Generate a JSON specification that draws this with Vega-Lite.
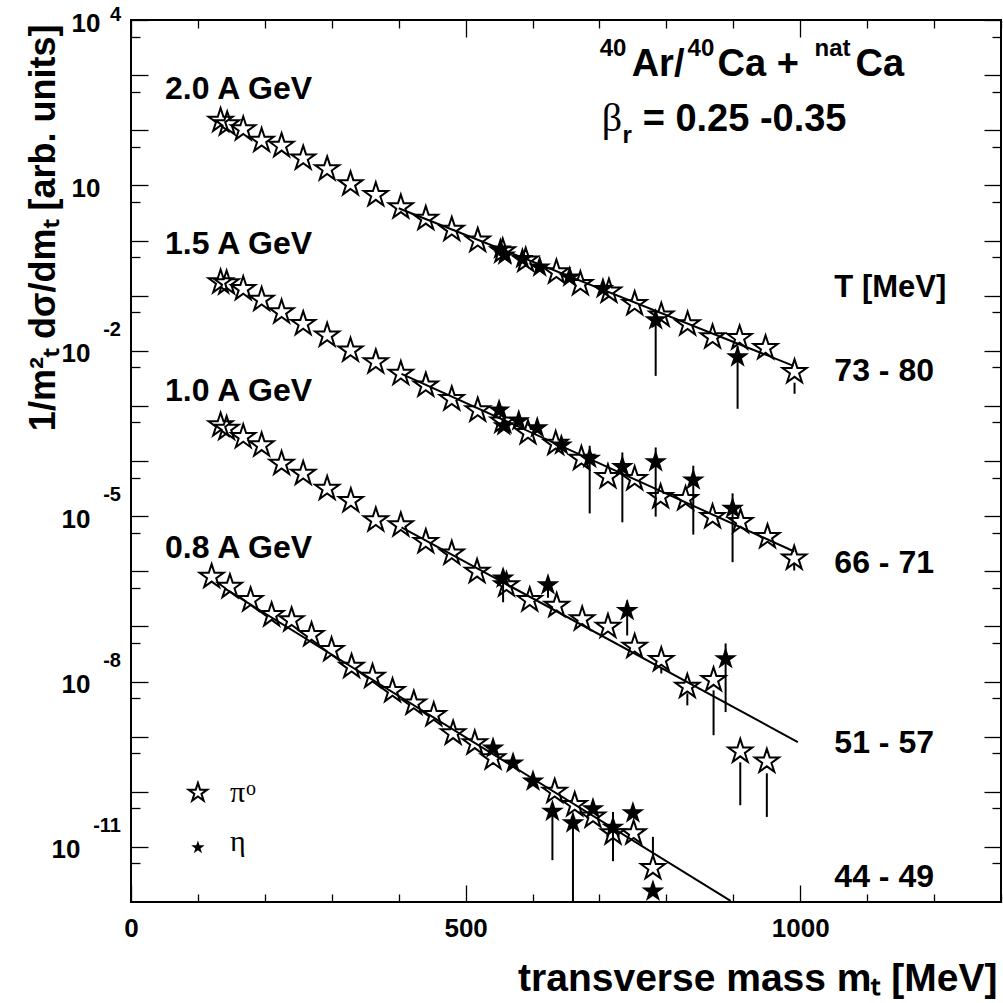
{
"$schema": "https://vega.github.io/schema/vega-lite/v6.json",
"width": 870, "height": 882,
"autosize": "none",
"padding": {"left": 131, "top": 20, "right": 2, "bottom": 101},
"background": "white",
"config": {
  "view": {"stroke": "black", "strokeWidth": 2},
  "axis": {"domain": false, "grid": false, "tickColor": "black", "tickWidth": 1.3, "labelColor": "black", "labelFont": "Liberation Sans", "labelFontWeight": "bold", "labelFontSize": 26, "labelOverlap": false, "labelBound": false, "labelFlush": false, "titleColor": "black", "titleFont": "Liberation Sans", "titleFontWeight": "bold", "titleFontSize": 36},
  "text": {"font": "Liberation Sans", "fill": "black"}
},
"datasets": {
  "fits": [
    {"e": "2.0", "x": 400, "y": 3.85}, {"e": "2.0", "x": 990, "y": 0.00532},
    {"e": "1.5", "x": 404.2, "y": 0.00382}, {"e": "1.5", "x": 991, "y": 2.28e-6},
    {"e": "1.0", "x": 404.2, "y": 6.27e-6}, {"e": "1.0", "x": 996.4, "y": 7.98e-10},
    {"e": "0.8", "x": 140.4, "y": 4.82e-7}, {"e": "0.8", "x": 896, "y": 1.05e-12}
  ],
  "pi": [
    {"e":"2.0","x":133.9,"y":157},{"e":"2.0","x":143.8,"y":136},{"e":"2.0","x":167.7,"y":110},{"e":"2.0","x":195.2,"y":68},{"e":"2.0","x":225,"y":55},{"e":"2.0","x":257.3,"y":32.6},{"e":"2.0","x":293.1,"y":20.8},{"e":"2.0","x":328,"y":11.1},{"e":"2.0","x":365.8,"y":7.04},{"e":"2.0","x":403.2,"y":4.22},{"e":"2.0","x":440.5,"y":2.61},{"e":"2.0","x":479.3,"y":1.66},{"e":"2.0","x":518.1,"y":1.05},{"e":"2.0","x":555.5,"y":0.673},{"e":"2.0","x":589.8,"y":0.456},{"e":"2.0","x":635.7,"y":0.28},{"e":"2.0","x":671.5,"y":0.172},{"e":"2.0","x":714.2,"y":0.125},{"e":"2.0","x":752.6,"y":0.0747},{"e":"2.0","x":792.4,"y":0.046},{"e":"2.0","x":831.7,"y":0.032},{"e":"2.0","x":869,"y":0.0186},{"e":"2.0","x":909.4,"y":0.0179},{"e":"2.0","x":948.2,"y":0.0118},{"e":"2.0","x":991.5,"y":0.00433},
    {"e":"1.5","x":133.9,"y":0.1845},{"e":"1.5","x":142.9,"y":0.177},{"e":"1.5","x":167.7,"y":0.1396},{"e":"1.5","x":195.2,"y":0.0889},{"e":"1.5","x":225,"y":0.0528},{"e":"1.5","x":257.3,"y":0.0324},{"e":"1.5","x":293.1,"y":0.02},{"e":"1.5","x":328,"y":0.01069},{"e":"1.5","x":365.8,"y":0.00656},{"e":"1.5","x":403.2,"y":0.00403},{"e":"1.5","x":440.5,"y":0.00248},{"e":"1.5","x":479.3,"y":0.0014},{"e":"1.5","x":518.1,"y":0.000875},{"e":"1.5","x":555.5,"y":0.00055},{"e":"1.5","x":593.2,"y":0.00034},{"e":"1.5","x":634.6,"y":0.000217},{"e":"1.5","x":673,"y":0.000116},{"e":"1.5","x":712.7,"y":5.42e-5},{"e":"1.5","x":752.6,"y":4.98e-5},{"e":"1.5","x":791.4,"y":2.35e-5},{"e":"1.5","x":828.7,"y":2.16e-5},{"e":"1.5","x":869,"y":1.02e-5},{"e":"1.5","x":910.9,"y":8.3e-6},{"e":"1.5","x":951.1,"y":4.43e-6},{"e":"1.5","x":991,"y":1.8e-6},
    {"e":"1.0","x":133.9,"y":4.68e-4},{"e":"1.0","x":142.9,"y":4.06e-4},{"e":"1.0","x":167.7,"y":2.87e-4},{"e":"1.0","x":195.2,"y":2.03e-4},{"e":"1.0","x":225,"y":9.43e-5},{"e":"1.0","x":257.3,"y":6.21e-5},{"e":"1.0","x":293.1,"y":3.32e-5},{"e":"1.0","x":328.5,"y":1.99e-5},{"e":"1.0","x":365.8,"y":8.9e-6},{"e":"1.0","x":403.2,"y":7.22e-6},{"e":"1.0","x":440.5,"y":3.6e-6},{"e":"1.0","x":479.3,"y":2.21e-6},{"e":"1.0","x":517.1,"y":1.03e-6},{"e":"1.0","x":561,"y":5.91e-7},{"e":"1.0","x":595.8,"y":3.16e-7},{"e":"1.0","x":636.1,"y":2.49e-7},{"e":"1.0","x":674.2,"y":1.42e-7},{"e":"1.0","x":712.7,"y":1.04e-7},{"e":"1.0","x":752.6,"y":4.5e-8},{"e":"1.0","x":792.4,"y":2.59e-8},{"e":"1.0","x":831.3,"y":8.5e-9},{"e":"1.0","x":870.5,"y":1.12e-8},{"e":"1.0","x":910.4,"y":5.65e-10},{"e":"1.0","x":950.1,"y":3.72e-10},
    {"e":"0.8","x":120.5,"y":8.36e-7},{"e":"0.8","x":147.8,"y":5.5e-7},{"e":"0.8","x":178.7,"y":3.16e-7},{"e":"0.8","x":210.1,"y":1.69e-7},{"e":"0.8","x":240,"y":1.37e-7},{"e":"0.8","x":269.8,"y":7.35e-8},{"e":"0.8","x":299.7,"y":3.93e-8},{"e":"0.8","x":329.6,"y":1.96e-8},{"e":"0.8","x":360.9,"y":1.29e-8},{"e":"0.8","x":390.8,"y":7.1e-9},{"e":"0.8","x":422.6,"y":4.23e-9},{"e":"0.8","x":452.4,"y":2.61e-9},{"e":"0.8","x":481.3,"y":1.21e-9},{"e":"0.8","x":513.7,"y":7.98e-10},{"e":"0.8","x":541,"y":4.27e-10},{"e":"0.8","x":633.1,"y":1.06e-10},{"e":"0.8","x":663,"y":6.1e-11},{"e":"0.8","x":690.3,"y":3.75e-11},{"e":"0.8","x":720.2,"y":1.87e-11},{"e":"0.8","x":751.1,"y":1.87e-11},{"e":"0.8","x":779.9,"y":4.35e-12}
  ],
  "eta": [
    {"e":"2.0","x":552,"y":0.731},{"e":"2.0","x":558.5,"y":0.569},{"e":"2.0","x":584.9,"y":0.488},{"e":"2.0","x":610.7,"y":0.345},{"e":"2.0","x":655.5,"y":0.227},{"e":"2.0","x":705.2,"y":0.14},{"e":"2.0","x":784,"y":0.0379},{"e":"2.0","x":906.4,"y":0.00805},
    {"e":"1.5","x":550,"y":0.000875},{"e":"1.5","x":557,"y":0.000455},{"e":"1.5","x":579.4,"y":0.00056},{"e":"1.5","x":607,"y":0.000418},{"e":"1.5","x":643.1,"y":0.000203},{"e":"1.5","x":685.4,"y":0.000116},{"e":"1.5","x":734.2,"y":8.22e-5},{"e":"1.5","x":784,"y":1.01e-4},{"e":"1.5","x":840.2,"y":4.72e-5},{"e":"1.5","x":898.9,"y":1.44e-5},
    {"e":"1.0","x":556,"y":7.8e-7},{"e":"1.0","x":623.1,"y":5.92e-7},{"e":"1.0","x":741.4,"y":2.02e-7},{"e":"1.0","x":888.5,"y":2.7e-8},
    {"e":"0.8","x":541,"y":6.47e-10},{"e":"0.8","x":570.9,"y":3.46e-10},{"e":"0.8","x":600.7,"y":1.62e-10},{"e":"0.8","x":629.7,"y":4.62e-11},{"e":"0.8","x":660.4,"y":2.84e-11},{"e":"0.8","x":690.3,"y":5.13e-11},{"e":"0.8","x":720.2,"y":2.37e-11},{"e":"0.8","x":750,"y":4.31e-11},{"e":"0.8","x":779.9,"y":1.64e-12}
  ],
  "bars": [
    {"x":784,"y1":0.05,"y2":0.0035},{"x":906.4,"y1":0.0123,"y2":0.000885},{"x":991.5,"y1":0.00263,"y2":0.00166},
    {"x":685.4,"y1":1.89e-4,"y2":1.12e-5},{"x":734.2,"y1":1.43e-4,"y2":7.73e-6},{"x":784,"y1":1.76e-4,"y2":9.8e-6},{"x":840.2,"y1":8.22e-5,"y2":4.62e-6},{"x":898.9,"y1":2.59e-5,"y2":1.46e-6},{"x":991,"y1":1.38e-6,"y2":1.03e-6},
    {"x":556,"y1":1.03e-6,"y2":2.74e-7},{"x":623.1,"y1":5.92e-7,"y2":3.3e-7},{"x":741.4,"y1":2.95e-7,"y2":6.84e-8},{"x":888.5,"y1":4.9e-8,"y2":2.79e-9},{"x":792.4,"y1":1.73e-8,"y2":1.4e-8},{"x":831.3,"y1":6.08e-9,"y2":3.69e-9},{"x":870.5,"y1":6.9e-9,"y2":1.06e-9},{"x":910.4,"y1":3.42e-10,"y2":5.69e-11},{"x":950.1,"y1":2.16e-10,"y2":3.49e-11},
    {"x":629.7,"y1":4.62e-11,"y2":5.74e-12},{"x":660.4,"y1":2.84e-11,"y2":1e-12},{"x":720.2,"y1":4.3e-11,"y2":5.5e-12},{"x":779.9,"y1":1.52e-11,"y2":7.1e-12}
  ],
  "legpi": [{"x": 100, "y": 1e-10}],
  "legeta": [{"x": 100, "y": 1e-11}],
  "yexp": [{"v": 10000, "e": "4"}, {"v": 0.01, "e": "-2"}, {"v": 1e-5, "e": "-5"}, {"v": 1e-8, "e": "-8"}, {"v": 1e-11, "e": "-11"}],
  "ann": [
    {"g":"energy","t":"2.0 A GeV","x":50.8,"y":366},
    {"g":"energy","t":"1.5 A GeV","x":50.8,"y":0.569},
    {"g":"energy","t":"1.0 A GeV","x":50.8,"y":0.001236},
    {"g":"energy","t":"0.8 A GeV","x":50.8,"y":1.77e-6},
    {"g":"energy","t":"73 - 80","x":1051,"y":0.00285},
    {"g":"energy","t":"66 - 71","x":1051,"y":9.48e-7},
    {"g":"energy","t":"51 - 57","x":1051,"y":4.98e-10},
    {"g":"energy","t":"44 - 49","x":1051,"y":1.86e-12},
    {"g":"tmev","t":"T [MeV]","x":1051,"y":0.0946},
    {"g":"main","t":"Ar/","x":748.1,"y":955},
    {"g":"main","t":"Ca +","x":876.5,"y":955},
    {"g":"main","t":"Ca","x":1082.6,"y":955},
    {"g":"sup","t":"40","x":700.3,"y":2198},
    {"g":"sup","t":"40","x":831.7,"y":2198},
    {"g":"sup","t":"nat","x":1021.4,"y":2198},
    {"g":"sup","t":"r","x":734.6,"y":58.3},
    {"g":"main","t":"= 0.25 -0.35","x":764.5,"y":96.4},
    {"g":"greekbig","t":"β","x":703.3,"y":96.4},
    {"g":"greek","t":"π","x":147.8,"y":6.46e-11},
    {"g":"greek","t":"η","x":147.8,"y":8.3e-12},
    {"g":"greeksup","t":"o","x":171.7,"y":8.65e-11}
  ]
},
"layer": [
  {
    "data": {"name": "fits"},
    "mark": {"type": "line", "color": "black", "strokeWidth": 2},
    "encoding": {
      "x": {"field": "x", "type": "quantitative", "scale": {"domain": [0, 1300], "nice": false, "zero": false},
        "axis": {"orient": "bottom", "values": [0,100,200,300,400,500,600,700,800,900,1000,1100,1200,1300],
          "labelExpr": "datum.value % 500 === 0 ? '' + datum.value : ''",
          "tickSize": {"condition": {"test": "datum.value % 500 === 0", "value": -17}, "value": -8},
          "labelPadding": 30,
          "title": "transverse mass mₜ [MeV]", "titleFontSize": 39, "titleX": 866, "titleY": 88, "titleAlign": "right", "titleBaseline": "alphabetic", "titleAnchor": null}},
      "y": {"field": "y", "type": "quantitative", "scale": {"type": "log", "domain": [1e-12, 10000], "nice": false},
        "axis": {"orient": "left", "values": [10000,5000,1000,500,100,50,10,5,1,0.5,0.1,0.05,0.01,0.005,0.001,0.0005,0.0001,5e-5,1e-5,5e-6,1e-6,5e-7,1e-7,5e-8,1e-8,5e-9,1e-9,5e-10,1e-10,5e-11,1e-11,5e-12],
          "labelExpr": "abs(log(datum.value)/LN10 - round(log(datum.value)/LN10)) < 0.01 && ((round(log(datum.value)/LN10) % 3) + 3) % 3 === 1 ? '10' : ''",
          "tickSize": {"condition": {"test": "abs(log(datum.value)/LN10 - round(log(datum.value)/LN10)) < 0.01", "value": -17}, "value": -9},
          "labelPadding": {"condition": [{"test": "datum.value > 1", "value": 48}, {"test": "datum.value < 5e-11", "value": 68}], "value": 58},
          "labelOffset": 3,
          "title": "1/m²ₜ dσ/dmₜ [arb. units]", "titleX": -77, "titleY": 4, "titleAngle": 270, "titleAlign": "right", "titleBaseline": "alphabetic", "titleAnchor": null}},
      "detail": {"field": "e"}
    }
  },
  {
    "data": {"name": "pi"},
    "mark": {"type": "point", "shape": "M0,-0.905L0.225,-0.214L0.951,-0.214L0.363,0.214L0.588,0.905L0,0.478L-0.588,0.905L-0.363,0.214L-0.951,-0.214L-0.225,-0.214Z", "size": 640, "filled": false, "stroke": "black", "strokeWidth": 2, "opacity": 1},
    "encoding": {
      "x": {"field": "x", "type": "quantitative", "scale": {"domain": [0, 1300], "nice": false, "zero": false},
        "axis": {"orient": "top", "values": [0,100,200,300,400,500,600,700,800,900,1000,1100,1200,1300], "labels": false, "title": null,
          "tickSize": {"condition": {"test": "datum.value % 500 === 0", "value": -17}, "value": -8}}},
      "y": {"field": "y", "type": "quantitative", "scale": {"type": "log", "domain": [1e-12, 10000], "nice": false},
        "axis": {"orient": "right", "values": [10000,5000,1000,500,100,50,10,5,1,0.5,0.1,0.05,0.01,0.005,0.001,0.0005,0.0001,5e-5,1e-5,5e-6,1e-6,5e-7,1e-7,5e-8,1e-8,5e-9,1e-9,5e-10,1e-10,5e-11,1e-11,5e-12], "labels": false, "title": null,
          "tickSize": {"condition": {"test": "abs(log(datum.value)/LN10 - round(log(datum.value)/LN10)) < 0.01", "value": -17}, "value": -9}}}
    }
  },
  {
    "data": {"name": "bars"},
    "mark": {"type": "rule", "color": "black", "strokeWidth": 2},
    "encoding": {
      "x": {"field": "x", "type": "quantitative", "scale": {"domain": [0, 1300], "nice": false, "zero": false}, "axis": null},
      "y": {"field": "y1", "type": "quantitative", "scale": {"type": "log", "domain": [1e-12, 10000], "nice": false}, "axis": null},
      "y2": {"field": "y2"}
    }
  },
  {
    "data": {"name": "eta"},
    "mark": {"type": "point", "shape": "M0,-0.905L0.225,-0.214L0.951,-0.214L0.363,0.214L0.588,0.905L0,0.478L-0.588,0.905L-0.363,0.214L-0.951,-0.214L-0.225,-0.214Z", "size": 580, "filled": true, "fill": "black", "strokeWidth": 0, "opacity": 1},
    "encoding": {
      "x": {"field": "x", "type": "quantitative", "scale": {"domain": [0, 1300], "nice": false, "zero": false}, "axis": null},
      "y": {"field": "y", "type": "quantitative", "scale": {"type": "log", "domain": [1e-12, 10000], "nice": false}, "axis": null}
    }
  },
  {
    "data": {"name": "legpi"},
    "mark": {"type": "point", "shape": "M0,-0.905L0.225,-0.214L0.951,-0.214L0.363,0.214L0.588,0.905L0,0.478L-0.588,0.905L-0.363,0.214L-0.951,-0.214L-0.225,-0.214Z", "size": 380, "filled": false, "stroke": "black", "strokeWidth": 2, "opacity": 1},
    "encoding": {
      "x": {"field": "x", "type": "quantitative", "scale": {"domain": [0, 1300], "nice": false, "zero": false}, "axis": null},
      "y": {"field": "y", "type": "quantitative", "scale": {"type": "log", "domain": [1e-12, 10000], "nice": false}, "axis": null}
    }
  },
  {
    "data": {"name": "legeta"},
    "mark": {"type": "point", "shape": "M0,-0.905L0.225,-0.214L0.951,-0.214L0.363,0.214L0.588,0.905L0,0.478L-0.588,0.905L-0.363,0.214L-0.951,-0.214L-0.225,-0.214Z", "size": 200, "filled": true, "fill": "black", "strokeWidth": 0, "opacity": 1},
    "encoding": {
      "x": {"field": "x", "type": "quantitative", "scale": {"domain": [0, 1300], "nice": false, "zero": false}, "axis": null},
      "y": {"field": "y", "type": "quantitative", "scale": {"type": "log", "domain": [1e-12, 10000], "nice": false}, "axis": null}
    }
  },
  {
    "data": {"name": "yexp"},
    "transform": [{"filter": "datum.v < 100"}],
    "mark": {"type": "text", "align": "right", "baseline": "middle", "dx": -10, "dy": -21, "fontSize": 20, "fontWeight": "bold", "font": "Liberation Sans"},
    "encoding": {
      "x": {"datum": 0, "type": "quantitative", "scale": {"domain": [0, 1300], "nice": false, "zero": false}, "axis": null},
      "y": {"field": "v", "type": "quantitative", "scale": {"type": "log", "domain": [1e-12, 10000], "nice": false}, "axis": null},
      "text": {"field": "e"}
    }
  },
  {
    "data": {"name": "yexp"},
    "transform": [{"filter": "datum.v > 100"}],
    "mark": {"type": "text", "align": "right", "baseline": "middle", "dx": -10, "dy": -5, "fontSize": 20, "fontWeight": "bold", "font": "Liberation Sans"},
    "encoding": {
      "x": {"datum": 0, "type": "quantitative", "scale": {"domain": [0, 1300], "nice": false, "zero": false}, "axis": null},
      "y": {"field": "v", "type": "quantitative", "scale": {"type": "log", "domain": [1e-12, 10000], "nice": false}, "axis": null},
      "text": {"field": "e"}
    }
  },
  {
    "data": {"name": "ann"},
    "transform": [{"filter": "datum.g === 'energy'"}],
    "mark": {"type": "text", "align": "left", "baseline": "alphabetic", "fontSize": 32, "fontWeight": "bold", "font": "Liberation Sans"},
    "encoding": {
      "x": {"field": "x", "type": "quantitative", "scale": {"domain": [0, 1300], "nice": false, "zero": false}, "axis": null},
      "y": {"field": "y", "type": "quantitative", "scale": {"type": "log", "domain": [1e-12, 10000], "nice": false}, "axis": null},
      "text": {"field": "t"}
    }
  },
  {
    "data": {"name": "ann"},
    "transform": [{"filter": "datum.g === 'tmev'"}],
    "mark": {"type": "text", "align": "left", "baseline": "alphabetic", "fontSize": 31, "fontWeight": "bold", "font": "Liberation Sans"},
    "encoding": {
      "x": {"field": "x", "type": "quantitative", "scale": {"domain": [0, 1300], "nice": false, "zero": false}, "axis": null},
      "y": {"field": "y", "type": "quantitative", "scale": {"type": "log", "domain": [1e-12, 10000], "nice": false}, "axis": null},
      "text": {"field": "t"}
    }
  },
  {
    "data": {"name": "ann"},
    "transform": [{"filter": "datum.g === 'main'"}],
    "mark": {"type": "text", "align": "left", "baseline": "alphabetic", "fontSize": 38, "fontWeight": "bold", "font": "Liberation Sans"},
    "encoding": {
      "x": {"field": "x", "type": "quantitative", "scale": {"domain": [0, 1300], "nice": false, "zero": false}, "axis": null},
      "y": {"field": "y", "type": "quantitative", "scale": {"type": "log", "domain": [1e-12, 10000], "nice": false}, "axis": null},
      "text": {"field": "t"}
    }
  },
  {
    "data": {"name": "ann"},
    "transform": [{"filter": "datum.g === 'sup'"}],
    "mark": {"type": "text", "align": "left", "baseline": "alphabetic", "fontSize": 24, "fontWeight": "bold", "font": "Liberation Sans"},
    "encoding": {
      "x": {"field": "x", "type": "quantitative", "scale": {"domain": [0, 1300], "nice": false, "zero": false}, "axis": null},
      "y": {"field": "y", "type": "quantitative", "scale": {"type": "log", "domain": [1e-12, 10000], "nice": false}, "axis": null},
      "text": {"field": "t"}
    }
  },
  {
    "data": {"name": "ann"},
    "transform": [{"filter": "datum.g === 'greekbig'"}],
    "mark": {"type": "text", "align": "left", "baseline": "alphabetic", "fontSize": 40, "font": "Liberation Serif"},
    "encoding": {
      "x": {"field": "x", "type": "quantitative", "scale": {"domain": [0, 1300], "nice": false, "zero": false}, "axis": null},
      "y": {"field": "y", "type": "quantitative", "scale": {"type": "log", "domain": [1e-12, 10000], "nice": false}, "axis": null},
      "text": {"field": "t"}
    }
  },
  {
    "data": {"name": "ann"},
    "transform": [{"filter": "datum.g === 'greek'"}],
    "mark": {"type": "text", "align": "left", "baseline": "alphabetic", "fontSize": 30, "font": "Liberation Serif"},
    "encoding": {
      "x": {"field": "x", "type": "quantitative", "scale": {"domain": [0, 1300], "nice": false, "zero": false}, "axis": null},
      "y": {"field": "y", "type": "quantitative", "scale": {"type": "log", "domain": [1e-12, 10000], "nice": false}, "axis": null},
      "text": {"field": "t"}
    }
  },
  {
    "data": {"name": "ann"},
    "transform": [{"filter": "datum.g === 'greeksup'"}],
    "mark": {"type": "text", "align": "left", "baseline": "alphabetic", "fontSize": 20, "font": "Liberation Serif"},
    "encoding": {
      "x": {"field": "x", "type": "quantitative", "scale": {"domain": [0, 1300], "nice": false, "zero": false}, "axis": null},
      "y": {"field": "y", "type": "quantitative", "scale": {"type": "log", "domain": [1e-12, 10000], "nice": false}, "axis": null},
      "text": {"field": "t"}
    }
  }
],
"resolve": {"axis": {"x": "independent", "y": "independent"}}
}
